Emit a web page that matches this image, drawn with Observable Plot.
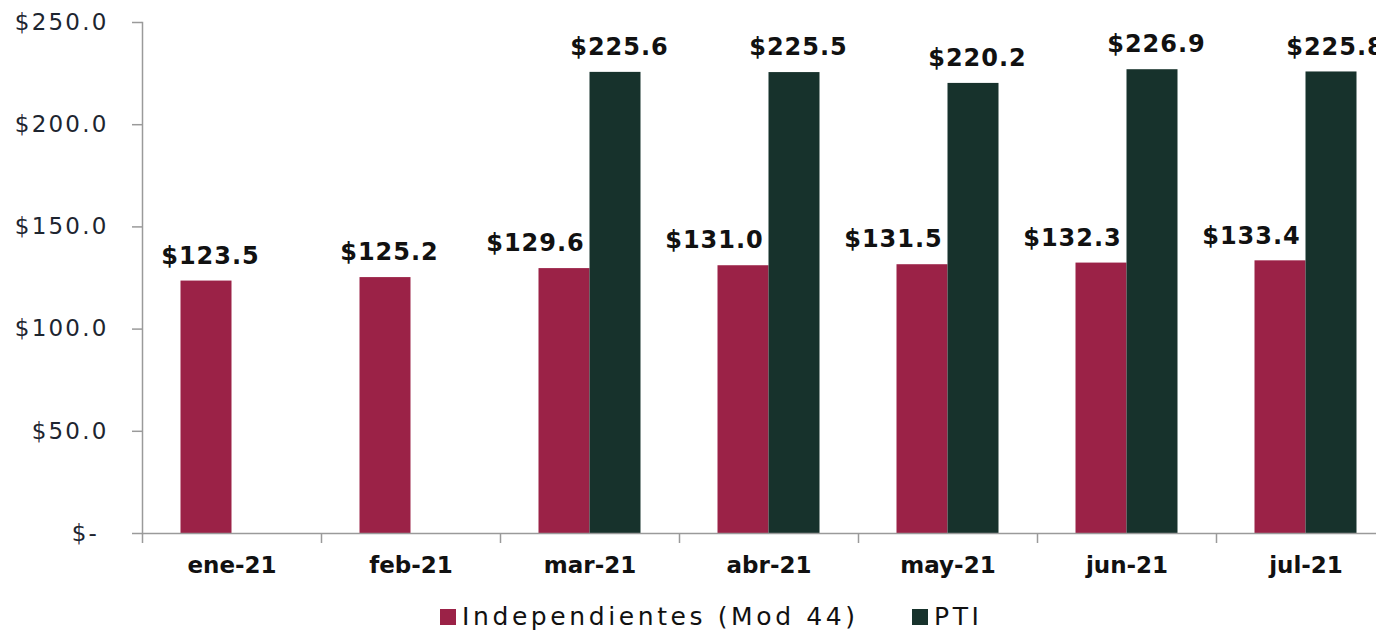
<!DOCTYPE html>
<html>
<head>
<meta charset="utf-8">
<script src="https://cdn.jsdelivr.net/npm/d3@7"></script>
<script src="https://cdn.jsdelivr.net/npm/@observablehq/plot@0.6"></script>
<style>
  html, body { margin: 0; padding: 0; background: #fff; overflow: hidden; }
  #chart svg { display: block; overflow: visible; }
  #legend { position: relative; height: 40px; font-family: "DejaVu Sans", sans-serif; font-size: 25px; letter-spacing: 3.6px; color: #111; }
  .item { position: absolute; top: 12px; display: flex; align-items: center; }
  .sw { width: 16px; height: 16px; margin-right: 6px; }
</style>
</head>
<body>
<div id="chart"></div>
<div id="legend"></div>
<script>
const months = ["ene-21", "feb-21", "mar-21", "abr-21", "may-21", "jun-21", "jul-21"];
const independientes = [123.5, 125.2, 129.6, 131.0, 131.5, 132.3, 133.4];
const pti = [null, null, 225.6, 225.5, 220.2, 226.9, 225.8];
const yTicks = [0, 50, 100, 150, 200, 250];
const seriesNames = ["Independientes (Mod 44)", "PTI"];
const colors = ["#9B2247", "#17322C"];

const data = months.map((m, i) => ({month: m, ind: independientes[i], pti: pti[i]}));
const withPti = data.filter(d => d.pti != null);
const noPti = data.filter(d => d.pti == null);

const fmt = v => "$" + v.toFixed(1);
const yFmt = v => v === 0 ? "$-\u00A0" : "$" + v.toFixed(1);

const half = 179 / 2;
const bw = 51;

const chart = Plot.plot({
  width: 1376,
  height: 590,
  marginTop: 22,
  marginBottom: 57,
  marginLeft: 142,
  marginRight: 0,
  x: {domain: months, range: [142, 1395], padding: 0, label: null},
  y: {domain: [0, 250], range: [533, 22], label: null},
  style: {fontFamily: "DejaVu Sans, sans-serif", background: "#fff"},
  marks: [
    Plot.barY(data, {x: "month", y: "ind", fill: colors[0], insetLeft: half - bw, insetRight: half}),
    Plot.barY(withPti, {x: "month", y: "pti", fill: colors[1], insetLeft: half, insetRight: half - bw}),
    Plot.ruleY([0], {stroke: "#9a9a9a", strokeWidth: 1.5}),
    Plot.frame({anchor: "left", stroke: "#9a9a9a", strokeWidth: 1.5}),
    Plot.ruleX(months, {x: d => d, dx: -half, y1: 0, y2: 0, insetBottom: -10, stroke: "#9a9a9a", strokeWidth: 1.5}),
    Plot.axisY({ticks: yTicks, tickSize: 10, tickPadding: 24, tickFormat: yFmt, fontSize: 23, stroke: "#9a9a9a", strokeWidth: 1.5, strokeOpacity: 1, fill: "#1d2530", label: null}),
    Plot.axisX({tickSize: 0, tickPadding: 23, fontSize: 23, fontWeight: "bold", fill: "#111", label: null}),
    Plot.text(noPti, {x: "month", y: "ind", text: d => fmt(d.ind), dx: -bw / 2 + 4, dy: -25, fontSize: 24, fontWeight: "bold", fill: "#111", lineAnchor: "middle"}),
    Plot.text(withPti, {x: "month", y: "ind", text: d => fmt(d.ind), dx: -bw / 2 - 29, dy: -25, fontSize: 24, fontWeight: "bold", fill: "#111", lineAnchor: "middle"}),
    Plot.text(withPti, {x: "month", y: "pti", text: d => fmt(d.pti), dx: bw / 2 + 4, dy: -25, fontSize: 24, fontWeight: "bold", fill: "#111", lineAnchor: "middle"})
  ]
});
chart.querySelectorAll("g[aria-label='text'] text").forEach(t => { t.style.letterSpacing = "1px"; });
chart.querySelectorAll("g[aria-label='y-axis tick label'] text").forEach(t => { t.style.letterSpacing = "2.2px"; });
document.getElementById("chart").appendChild(chart);

const legend = document.getElementById("legend");
const lefts = [440, 912];
seriesNames.forEach((name, i) => {
  const it = document.createElement("div");
  it.className = "item";
  it.style.left = lefts[i] + "px";
  const sw = document.createElement("span");
  sw.className = "sw";
  sw.style.background = colors[i];
  const tx = document.createElement("span");
  tx.textContent = name;
  it.appendChild(sw);
  it.appendChild(tx);
  legend.appendChild(it);
});
</script>
</body>
</html>
